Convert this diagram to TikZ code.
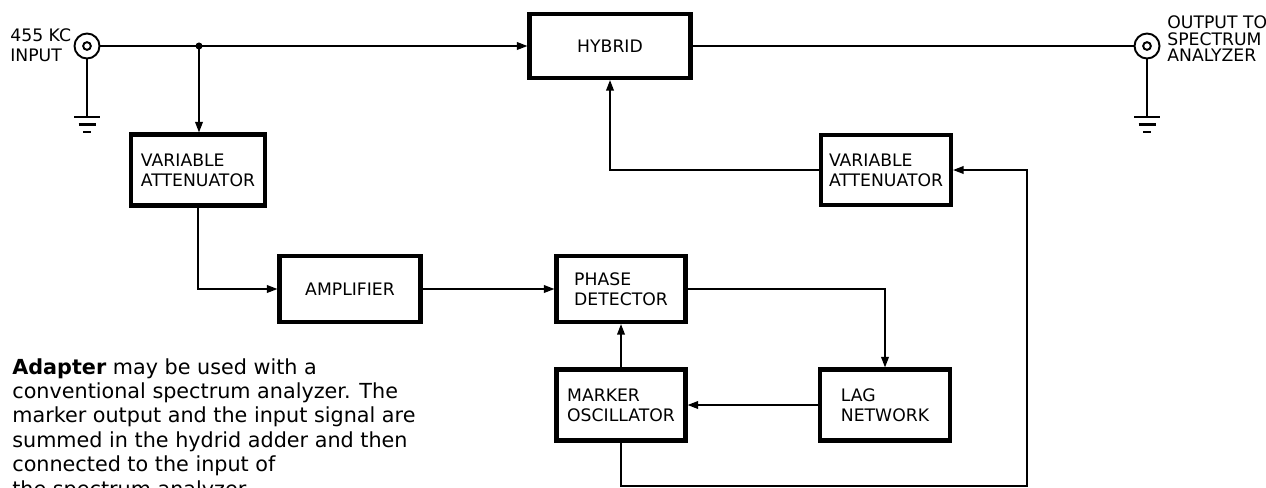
\documentclass[tikz,border=0pt]{standalone}
\usepackage{fontspec}
\setmainfont{DejaVu Sans}
\usetikzlibrary{arrows.meta}
\tikzset{
  blk/.style={draw,line width=2.4pt,align=left,inner sep=0pt,
    font=\fontsize{9.8}{11.5}\selectfont},
  sig/.style={line width=0.8pt},
  sigarr/.style={sig,-{Triangle[length=6pt,width=4.4pt]}},
  jack/.style={circle,draw,line width=1.1pt,minimum size=0.5cm,inner sep=0pt},
  gndbar/.style={line width=1.3pt},
}

\begin{document}
\begin{tikzpicture}[x=0.02cm,y=-0.02cm]
\useasboundingbox (0,0) rectangle (1266,487);
% blocks
\node[blk,minimum width=3.22cm,minimum height=1.28cm] (hyb) at (610,46) {HYBRID};
\node[blk,minimum width=2.68cm,minimum height=1.42cm] (va1) at (198,170) {VARIABLE\\ATTENUATOR};
\node[blk,minimum width=2.60cm,minimum height=1.40cm] (va2) at (886,170) {VARIABLE\\ATTENUATOR};
\node[blk,minimum width=2.82cm,minimum height=1.32cm] (amp) at (350,289) {AMPLIFIER};
\node[blk,minimum width=2.58cm,minimum height=1.32cm] (pd) at (621,289) {PHASE\\DETECTOR};
\node[blk,minimum width=2.60cm,minimum height=1.42cm] (lag) at (885,405) {LAG\\NETWORK};
\node[blk,minimum width=2.58cm,minimum height=1.42cm] (mo) at (621,405) {MARKER\\OSCILLATOR};
% jacks
\node[jack] (inj) at (87,46) {};
\draw[line width=1.1pt] (inj.center) circle[radius=2.2pt];
\node[jack] (outj) at (1147,46) {};
\draw[line width=1.1pt] (outj.center) circle[radius=2.2pt];
\node[anchor=north west,align=left,inner sep=0pt,font=\fontsize{9.8}{11.5}\selectfont]
  (inlbl) at (10,28) {455 KC\\INPUT};
\node[anchor=north west,align=left,inner sep=0pt,font=\fontsize{9.8}{9.6}\selectfont]
  (outlbl) at (1167,15) {OUTPUT TO\\SPECTRUM\\ANALYZER};
% grounds
\coordinate (gin) at (87,117);
\coordinate (gout) at (1147,117);
\draw[sig] (inj.south) -- (gin);
\draw[sig] (outj.south) -- (gout);
\foreach \g in {gin,gout}
  \foreach \w/\d in {13/0,8.5/7.5,4/15}
    \draw[gndbar] (\g) ++(-\w,\d) -- ++(2*\w,0);
% signal path
\coordinate (tap) at (199,46);
\draw[sigarr] (inj.east) -- (hyb.west);
\fill (tap) circle[radius=2pt];
\draw[sigarr] (tap) -- (tap |- va1.north);
\draw[sig] (hyb.east) -- (outj.west);
\draw[sigarr] (va1.south) |- (amp.west);
\draw[sigarr] (amp.east) -- (pd.west);
\draw[sigarr] (pd.east) -| (lag.north);
\draw[sigarr] (lag.west) -- (mo.east);
\draw[sigarr] (mo.north) -- (pd.south);
% marker feed back to hybrid
\coordinate (bot) at (1027,486);
\draw[sigarr] (mo.south) |- (bot) |- (va2.east);
\draw[sigarr] (va2.west) -| (hyb.south);
% caption
\node[anchor=north west,align=left,inner sep=0pt,font=\fontsize{11.8}{13.9}\selectfont]
  (cap) at (12,358) {\textbf{Adapter} may be used with a\\
  conventional spectrum analyzer. The\\
  marker output and the input signal are\\
  summed in the hydrid adder and then\\
  connected to the input of\\
  the spectrum analyzer.};
\end{tikzpicture}
\end{document}
